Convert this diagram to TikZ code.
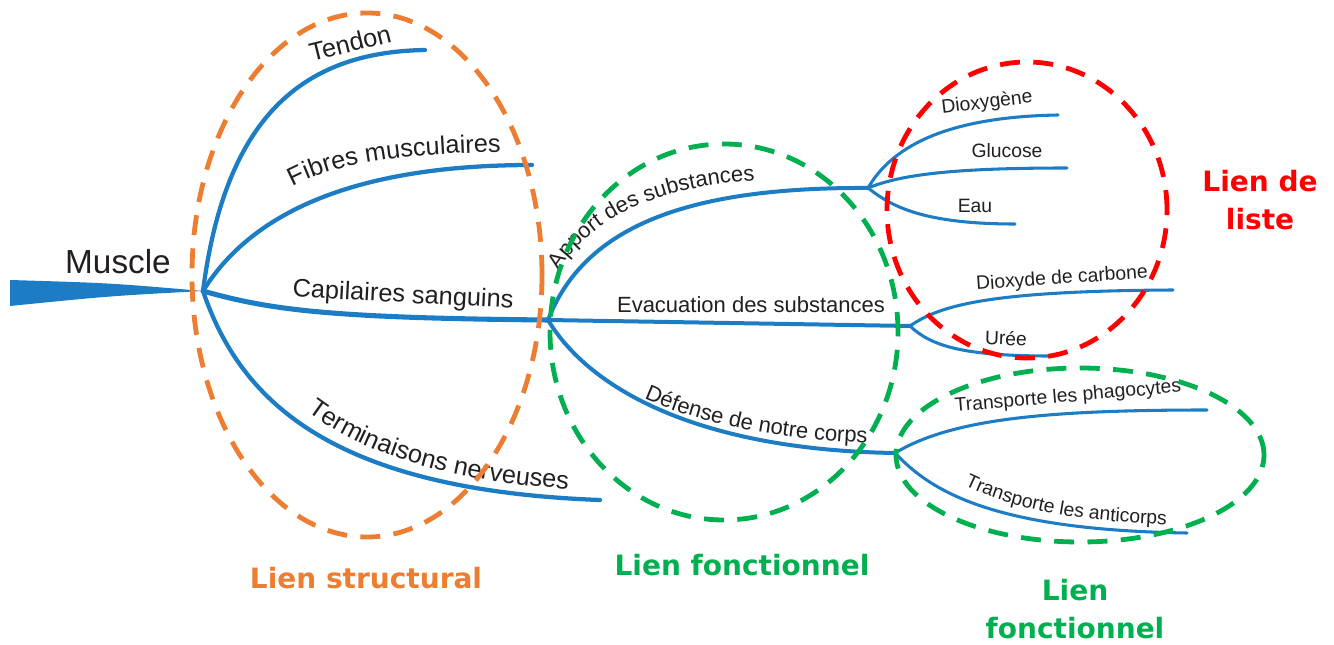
\documentclass[tikz,border=0pt]{standalone}
\usepackage{fontspec}
\setmainfont{Liberation Sans}
\newfontfamily\lienfont{DejaVu Sans}
\usetikzlibrary{decorations.text}
\definecolor{branch}{RGB}{28,124,196}
\definecolor{lorange}{RGB}{237,125,49}
\definecolor{lgreen}{RGB}{0,176,80}
\definecolor{lred}{RGB}{255,0,0}
\definecolor{txt}{RGB}{35,31,32}
\begin{document}
\begin{tikzpicture}[x=0.75pt,y=0.75pt,
  br1/.style={draw=branch, line width=3.2pt, line cap=round},
  br2/.style={draw=branch, line width=3pt, line cap=round},
  br3/.style={draw=branch, line width=2.3pt, line cap=round},
  lab1/.style={text=txt, inner sep=0pt, font=\fontsize{19}{21}\selectfont},
  lab2/.style={text=txt, inner sep=0pt, font=\fontsize{16.5}{18}\selectfont},
  lab3/.style={text=txt, inner sep=0pt, font=\fontsize{14.5}{16}\selectfont},
  zone/.style={line width=3.6pt, dash pattern=on 15pt off 10pt},
  lien/.style={inner sep=0pt, align=center, font=\lienfont\bfseries\fontsize{21}{28.5}\selectfont},
  curvtext/.style={decorate, decoration={text along path, text align=center, text color=txt, text={#1}}}
]
\useasboundingbox (0,0) rectangle (1334,-645);

% hubs and ends
\coordinate (T0a) at (10,-280);
\coordinate (T0b) at (10,-306);
\coordinate (H1) at (203,-291);
\coordinate (H2) at (548,-320);
\coordinate (H3) at (868,-188);
\coordinate (H4) at (910,-326);
\coordinate (H5) at (895,-453);
\coordinate (eTendon) at (425,-50);
\coordinate (eFibres) at (532,-165);
\coordinate (eTerm) at (600,-500);
\coordinate (eDiox) at (1058,-115);
\coordinate (eGluc) at (1067,-168);
\coordinate (eEau) at (1015,-224);
\coordinate (eCO2) at (1173,-290);
\coordinate (eUree) at (1050,-356);
\coordinate (ePhago) at (1207,-410);
\coordinate (eAnti) at (1187,-533);

% trunk
\fill[branch] (T0a) .. controls (110,-283) .. (H1) .. controls (110,-296) .. (T0b) -- cycle;

% branches
\draw[br1] (H1) .. controls (225,-120) and (300,-52) .. (eTendon);
\draw[br1] (H1) .. controls (250,-215) and (350,-165) .. (eFibres);
\draw[br1, line width=3.8pt] (H1) .. controls (270,-310) and (330,-318) .. (H2);
\draw[br1] (H1) .. controls (240,-400) and (330,-490) .. (eTerm);
\draw[br2] (H2) .. controls (585,-225) and (690,-187) .. (H3);
\draw[br2] (H2) -- (H4);
\draw[br2] (H2) .. controls (590,-390) and (700,-450) .. (H5);
\draw[br3] (H3) .. controls (890,-150) and (940,-117) .. (eDiox);
\draw[br3] (H3) .. controls (900,-175) and (950,-168) .. (eGluc);
\draw[br3] (H3) .. controls (890,-205) and (920,-224) .. (eEau);
\draw[br3] (H4) .. controls (940,-305) and (990,-291) .. (eCO2);
\draw[br3] (H4) .. controls (930,-345) and (960,-356) .. (eUree);
\draw[br3] (H5) .. controls (950,-420) and (1040,-410) .. (ePhago);
\draw[br3] (H5) .. controls (930,-490) and (990,-530) .. (eAnti);

% labels
\node[text=txt, inner sep=0pt, font=\fontsize{25}{28}\selectfont] (muscle) at (118,-262) {Muscle};
\node[lab1, rotate=14] (tendon) at (350,-43) {Tendon};
\path[curvtext={|\fontsize{19}{21}\selectfont|Fibres musculaires}] (283,-192) .. controls (330,-163) and (400,-153) .. (512,-152);
\node[lab1, rotate=-3] (capil) at (403,-296) {Capilaires sanguins};
\path[curvtext={|\fontsize{19}{21}\selectfont|Terminaisons nerveuses}] (298,-404) .. controls (360,-455) and (450,-482) .. (580,-490);
\path[curvtext={|\fontsize{16.5}{18}\selectfont|Apport des substances}] (553,-280) .. controls (585,-222) and (650,-185) .. (766,-180);
\node[lab2] (evac) at (751,-305) {Evacuation des substances};
\path[curvtext={|\fontsize{16.5}{18}\selectfont|Défense de notre corps}] (636,-395) .. controls (700,-425) and (780,-440) .. (876,-443);
\node[lab3, rotate=7] (diox) at (987,-103) {Dioxygène};
\node[lab3] (gluc) at (1007,-151) {Glucose};
\node[lab3] (eau) at (975,-206) {Eau};
\node[lab3, rotate=4] (co2) at (1062,-279) {Dioxyde de carbone};
\node[lab3, rotate=-2] (uree) at (1006,-338) {Urée};
\node[lab3, rotate=5] (phago) at (1068,-397) {Transporte les phagocytes};
\path[curvtext={|\fontsize{14.5}{16}\selectfont|Transporte les anticorps}] (956,-481) .. controls (1010,-510) and (1080,-522) .. (1176,-525);

% zones
\draw[zone, lorange] (367,-275) ellipse [x radius=175, y radius=262];
\draw[zone, lgreen] (724,-332) ellipse [x radius=174, y radius=188];
\draw[zone, lred] (1027,-210) ellipse [x radius=140, y radius=148];
\draw[zone, lgreen] (1080,-455) ellipse [x radius=184, y radius=87];

% zone labels
\node[lien, text=lorange] (lstruct) at (366,-578) {Lien structural};
\node[lien, text=lgreen] (lfonc1) at (742,-565) {Lien fonctionnel};
\node[lien, text=lred] (lliste) at (1260,-200) {Lien de\\liste};
\node[lien, text=lgreen] (lfonc2) at (1075,-609) {Lien\\fonctionnel};
\end{tikzpicture}
\end{document}
